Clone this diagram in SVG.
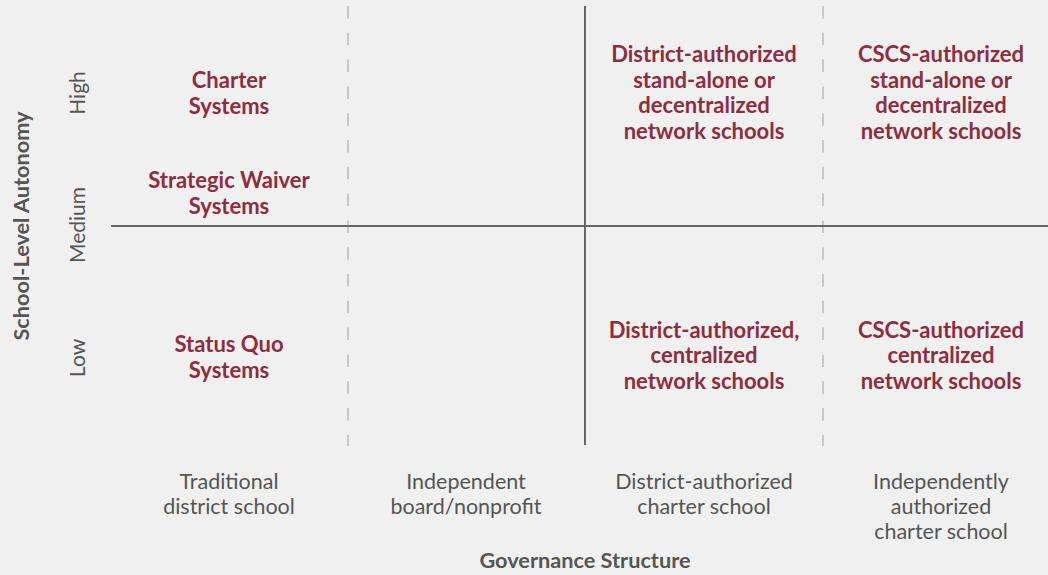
<svg xmlns="http://www.w3.org/2000/svg" width="1048" height="575" viewBox="0 0 1048 575">
<style>
.bg{fill:#f0f0f0}
.solid{stroke:#666;stroke-width:2;fill:none}
.dash{stroke:#c8c8c8;stroke-width:2;stroke-dasharray:12.5 14.3;fill:none}
.cell{font-family:Lato,"Open Sans",sans-serif;font-weight:bold;font-size:22px;fill:#8e2d3f;text-anchor:middle}
.ax{font-family:Lato,"Open Sans",sans-serif;font-size:21.5px;fill:#555;text-anchor:middle}
.ay{font-family:Lato,"Open Sans",sans-serif;font-size:21px;fill:#555;text-anchor:middle}
.title{font-family:Lato,"Open Sans",sans-serif;font-weight:bold;font-size:21.7px;fill:#555;text-anchor:middle}
</style>
<rect class="bg" x="0" y="0" width="1048" height="575"/>
<g id="connectors">
<line class="dash" x1="348" y1="6" x2="348" y2="446"/>
<line class="dash" x1="823" y1="6" x2="823" y2="446"/>
<line class="solid" x1="585" y1="6" x2="585" y2="445"/>
<line class="solid" x1="111" y1="226" x2="1048" y2="226"/>
</g>
<g id="charter-systems"><text class="cell" x="229" y="88">Charter</text><text class="cell" x="229" y="114">Systems</text></g>
<g id="strategic-waiver"><text class="cell" x="229" y="188">Strategic Waiver</text><text class="cell" x="229" y="214">Systems</text></g>
<g id="status-quo"><text class="cell" x="229" y="352">Status Quo</text><text class="cell" x="229" y="378">Systems</text></g>
<g id="district-decentralized"><text class="cell" x="704" y="62">District-authorized</text><text class="cell" x="704" y="88">stand-alone or</text><text class="cell" x="704" y="113">decentralized</text><text class="cell" x="704" y="139">network schools</text></g>
<g id="cscs-decentralized"><text class="cell" x="941" y="62">CSCS-authorized</text><text class="cell" x="941" y="88">stand-alone or</text><text class="cell" x="941" y="113">decentralized</text><text class="cell" x="941" y="139">network schools</text></g>
<g id="district-centralized"><text class="cell" x="704" y="338">District-authorized,</text><text class="cell" x="704" y="363">centralized</text><text class="cell" x="704" y="389">network schools</text></g>
<g id="cscs-centralized"><text class="cell" x="941" y="338">CSCS-authorized</text><text class="cell" x="941" y="363">centralized</text><text class="cell" x="941" y="389">network schools</text></g>
<g id="y-axis">
<text class="title" transform="translate(29,226) rotate(-90)">School-Level Autonomy</text>
<text class="ay" transform="translate(85,93) rotate(-90)">High</text>
<text class="ay" transform="translate(85,225) rotate(-90)">Medium</text>
<text class="ay" transform="translate(85,358) rotate(-90)">Low</text>
</g>
<g id="x-axis">
<text class="ax" x="229" y="489">Traditional</text><text class="ax" x="229" y="514">district school</text>
<text class="ax" x="466" y="489">Independent</text><text class="ax" x="466" y="514">board/nonprofit</text>
<text class="ax" x="704" y="489">District-authorized</text><text class="ax" x="704" y="514">charter school</text>
<text class="ax" x="941" y="489">Independently</text><text class="ax" x="941" y="514">authorized</text><text class="ax" x="941" y="539">charter school</text>
<text class="title" x="585" y="568">Governance Structure</text>
</g>
</svg>
